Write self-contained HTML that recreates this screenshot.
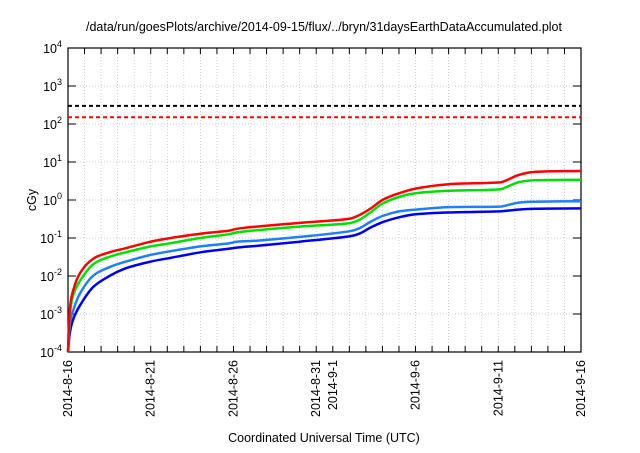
<!DOCTYPE html>
<html><head><meta charset="utf-8"><style>
body{margin:0;background:#fff;}
svg text{font-family:"Liberation Sans",sans-serif;fill:#000;}
</style></head><body>
<svg id="chart" width="640" height="448" xmlns="http://www.w3.org/2000/svg">
<text x="324" y="31" font-size="12.5" text-anchor="middle">/data/run/goesPlots/archive/2014-09-15/flux/../bryn/31daysEarthDataAccumulated.plot</text>
<text x="324" y="442" font-size="12.5" text-anchor="middle">Coordinated Universal Time (UTC)</text>
<text transform="translate(36,200) rotate(-90)" font-size="12.5" text-anchor="middle">cGy</text>
<g id="grid"></g><g id="axes"></g><g id="series"></g>
</svg>
<script>
const days = [0,0.1,0.3,0.73,1.5,2.5,3.5,5,6.2,8,9.7,10.2,11.4,14,17,17.6,18.3,19,20,21,23,26.1,26.5,27.2,28.2,31];
const redVals = [0.0001,0.0012,0.004,0.012,0.028,0.042,0.054,0.08,0.1,0.13,0.155,0.175,0.2,0.25,0.32,0.4,0.6,1.0,1.5,2.0,2.6,2.9,3.3,4.5,5.5,5.8];
const greenVals = [0.0001,0.0009,0.003,0.0075,0.02,0.032,0.042,0.06,0.073,0.1,0.125,0.14,0.16,0.2,0.245,0.3,0.48,0.8,1.2,1.5,1.75,1.9,2.2,2.9,3.3,3.4];
const lblueVals = [0.0001,0.0005,0.0012,0.0035,0.01,0.017,0.024,0.036,0.045,0.06,0.072,0.08,0.085,0.107,0.15,0.18,0.27,0.38,0.5,0.56,0.65,0.67,0.72,0.85,0.9,0.93];
const blueVals = [0.0001,0.0003,0.0007,0.0017,0.005,0.01,0.016,0.024,0.03,0.042,0.052,0.056,0.062,0.08,0.11,0.13,0.19,0.26,0.35,0.42,0.47,0.5,0.52,0.56,0.59,0.6];
const refLevels = [300,150];
const xTickDays = [0,5,10,15,16,21,26,31];
const xTickLabels = ["2014-8-16","2014-8-21","2014-8-26","2014-8-31","2014-9-1","2014-9-6","2014-9-11","2014-9-16"];
const yExps = [-4,-3,-2,-1,0,1,2,3,4];

const X0=68,X1=581,Y0=352,Y1=48,NS="http://www.w3.org/2000/svg";
const xs=d=>X0+(X1-X0)*d/31;
const ys=v=>Y0-(Math.log10(v)+4)*(Y0-Y1)/8;
function mk(t,a,p){const e=document.createElementNS(NS,t);for(const k in a)e.setAttribute(k,a[k]);p.appendChild(e);return e;}
const grid=document.getElementById('grid'),axes=document.getElementById('axes'),ser=document.getElementById('series');
for(let d=1;d<31;d++){const l=mk('line',{x1:xs(d),x2:xs(d),y1:Y1,y2:Y0,stroke:'#bbb','stroke-width':0.7,'stroke-dasharray':'1,2'},grid);

mk('line',{x1:xs(d),x2:xs(d),y1:Y0,y2:Y0-6,stroke:'#000'},axes);mk('line',{x1:xs(d),x2:xs(d),y1:Y1,y2:Y1+6,stroke:'#000'},axes);}
yExps.forEach(e=>{const y=ys(Math.pow(10,e));
if(e>-4&&e<4){const l=mk('line',{x1:X0,x2:X1,y1:y,y2:y,stroke:'#bbb','stroke-width':0.7,'stroke-dasharray':'1,2'},grid);
}
mk('line',{x1:X0,x2:X0+8,y1:y,y2:y,stroke:'#000'},axes);mk('line',{x1:X1,x2:X1-8,y1:y,y2:y,stroke:'#000'},axes);
const t=mk('text',{x:X0-6,y:y+5,'font-size':12.5,'text-anchor':'end'},axes);

t.innerHTML='10<tspan dy="-6" font-size="9">'+e+'</tspan>';});
xTickDays.forEach((d,i)=>{const x=xs(d);const t=mk('text',{transform:`translate(${x+4},${Y0+8}) rotate(-90)`,'font-size':12.5,'text-anchor':'end'},axes);
t.textContent=xTickLabels[i];});
const fr=mk('rect',{x:X0,y:Y1,width:X1-X0,height:Y0-Y1,fill:'none',stroke:'#000','stroke-width':1.2},axes);

const rc=['#000','#f00'];
refLevels.forEach((v,i)=>{const l=mk('line',{x1:X0,x2:X1,y1:ys(v),y2:ys(v),stroke:rc[i],'stroke-width':2,'stroke-dasharray':'4,3'},ser);
});
function smooth(pts){let d='M'+pts[0][0].toFixed(1)+','+pts[0][1].toFixed(1);
for(let i=0;i<pts.length-1;i++){const p0=pts[Math.max(i-1,0)],p1=pts[i],p2=pts[i+1],p3=pts[Math.min(i+2,pts.length-1)];
const dx=p2[0]-p1[0];
let c1y=p1[1]+(p2[1]-p0[1])/(p2[0]-p0[0]||1)*dx/3, c2y=p2[1]-(p3[1]-p1[1])/(p3[0]-p1[0]||1)*dx/3;
const lo=Math.min(p1[1],p2[1]),hi=Math.max(p1[1],p2[1]);c1y=Math.min(hi,Math.max(lo,c1y));c2y=Math.min(hi,Math.max(lo,c2y));
d+=`C${(p1[0]+dx/3).toFixed(1)},${c1y.toFixed(1)} ${(p2[0]-dx/3).toFixed(1)},${c2y.toFixed(1)} ${p2[0].toFixed(1)},${p2[1].toFixed(1)}`;}
return d;}
[[blueVals,'#0000ee','series-blue'],[lblueVals,'#1e7fff','series-light-blue'],[greenVals,'#00e000','series-green'],[redVals,'#ff0000','series-red']].forEach(([vals,c,n])=>{
const p=mk('path',{d:smooth(vals.map((v,i)=>[xs(days[i]),ys(v)])),fill:'none',stroke:c,'stroke-width':2.5,'stroke-linejoin':'round'},ser);
});
</script>
</body></html>
